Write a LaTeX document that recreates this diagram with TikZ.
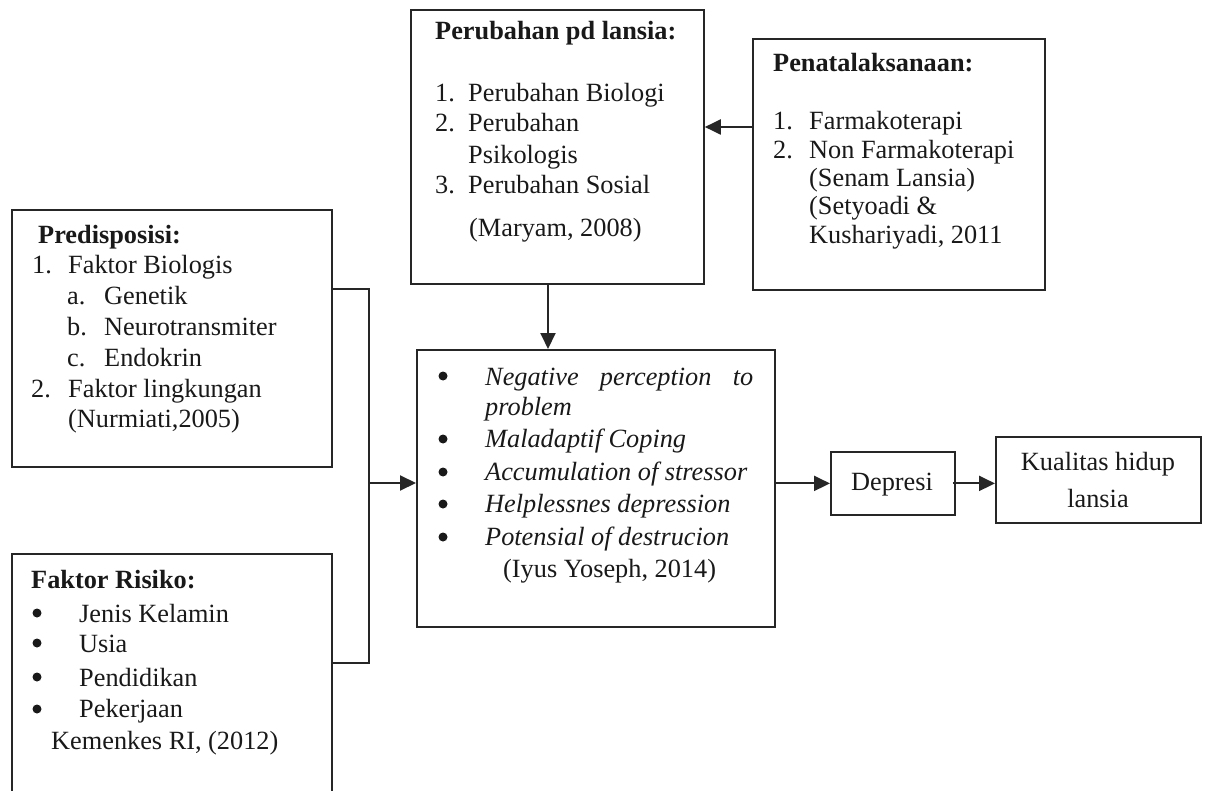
\documentclass[tikz,border=0pt]{standalone}
\usepackage{fontspec}
\setmainfont{Liberation Serif}
\usetikzlibrary{arrows.meta}
\tikzset{
  box/.style={draw=black!85, line width=1.8pt, rectangle, inner sep=0pt, anchor=north west},
  txt/.style={inner sep=0pt, anchor=base west, font=\fontsize{26.3}{29}\selectfont, text=black!90},
  dot/.style={circle, fill=black!90, inner sep=0pt, minimum size=9pt},
  arr/.style={draw=black!85, line width=2pt, -{Triangle[length=16pt,width=15pt]}},
  ln/.style={draw=black!85, line width=1.4pt},
}
\begin{document}
\begin{tikzpicture}[x=1pt,y=-1pt]
\useasboundingbox (0,0) rectangle (1206,791);
\clip (0,0) rectangle (1206,791);
\fill[white] (0,0) rectangle (1206,791);
% boxes
\node[box, minimum width=320pt, minimum height=257pt] (pred) at (11,209) {};
\node[box, minimum width=320pt, minimum height=260pt] (risk) at (11,553) {};
\node[box, minimum width=293pt, minimum height=274pt] (perub) at (410,9) {};
\node[box, minimum width=292pt, minimum height=251pt] (penata) at (752,38) {};
\node[box, minimum width=358pt, minimum height=277pt] (center) at (416,349) {};
\node[box, minimum width=124pt, minimum height=63pt] (depresi) at (830,451) {};
\node[box, minimum width=205pt, minimum height=86pt] (kual) at (995,436) {};
% Perubahan texts
\node[txt] (p0) at (435,40) {\bfseries Perubahan pd lansia:};
\node[txt] (p1n) at (435,102) {1.};
\node[txt] (p1) at (468,102) {Perubahan Biologi};
\node[txt] (p2n) at (435,132) {2.};
\node[txt] (p2) at (468,132) {Perubahan};
\node[txt] (p2b) at (468,164) {Psikologis};
\node[txt] (p3n) at (435,194) {3.};
\node[txt] (p3) at (468,194) {Perubahan Sosial};
\node[txt] (p4) at (469,237) {(Maryam, 2008)};
% Penatalaksanaan texts
\node[txt] (q0) at (773,72) {\bfseries Penatalaksanaan:};
\node[txt] (q1n) at (773,130) {1.};
\node[txt] (q1) at (809,130) {Farmakoterapi};
\node[txt] (q2n) at (773,159) {2.};
\node[txt] (q2) at (809,159) {Non Farmakoterapi};
\node[txt] (q3) at (809,187) {(Senam Lansia)};
\node[txt] (q4) at (809,215) {(Setyoadi \&};
\node[txt] (q5) at (809,244) {Kushariyadi, 2011};
% Predisposisi texts
\node[txt] (r0) at (38,244) {\bfseries Predisposisi:};
\node[txt] (r1n) at (32,274) {1.};
\node[txt] (r1) at (68,274) {Faktor Biologis};
\node[txt] (r2n) at (67,305) {a.};
\node[txt] (r2) at (104,305) {Genetik};
\node[txt] (r3n) at (67,335) {b.};
\node[txt] (r3) at (104,335) {Neurotransmiter};
\node[txt] (r4n) at (67,366) {c.};
\node[txt] (r4) at (104,366) {Endokrin};
\node[txt] (r5n) at (31,397) {2.};
\node[txt] (r5) at (68,397) {Faktor lingkungan};
\node[txt] (r6) at (68,427) {(Nurmiati,2005)};
% Faktor Risiko texts
\node[txt] (s0) at (31,588) {\bfseries Faktor Risiko:};
\node[dot] (s1b) at (37,613) {};
\node[txt] (s1) at (79,622) {Jenis Kelamin};
\node[dot] (s2b) at (37,643) {};
\node[txt] (s2) at (79,652) {Usia};
\node[dot] (s3b) at (37,677) {};
\node[txt] (s3) at (79,686) {Pendidikan};
\node[dot] (s4b) at (37,709) {};
\node[txt] (s4) at (79,717) {Pekerjaan};
\node[txt] (s5) at (51,749) {Kemenkes RI, (2012)};
% center texts
\node[dot] (c1b) at (443,376) {};
\node[txt] (c1) at (485,385) {\makebox[268pt][s]{\itshape Negative perception to}};
\node[txt] (c1c) at (485,415) {\itshape problem};
\node[dot] (c2b) at (443,439) {};
\node[txt] (c2) at (485,447) {\itshape Maladaptif Coping};
\node[dot] (c3b) at (443,472) {};
\node[txt] (c3) at (485,480) {\itshape Accumulation of stressor};
\node[dot] (c4b) at (443,504) {};
\node[txt] (c4) at (485,512) {\itshape Helplessnes depression};
\node[dot] (c5b) at (443,537) {};
\node[txt] (c5) at (485,545) {\itshape Potensial of destrucion};
\node[txt] (c6) at (503,577) {(Iyus Yoseph, 2014)};
% small boxes texts
\node[txt, anchor=base] (d1) at (892,490) {Depresi};
\node[txt, anchor=base] (k1) at (1098,470) {Kualitas hidup};
\node[txt, anchor=base] (k2) at (1098,507) {lansia};
% connectors
\coordinate (bt) at (369,289);
\coordinate (bb) at (369,663);
\coordinate (bm) at (369,483);
\coordinate (ya) at (0,127);
\coordinate (xa) at (548,0);
\draw[ln] (pred.east |- bt) -- (bt) -- (bb) -- (risk.east |- bb);
\draw[arr] (bm) -- (center.west |- bm);
\draw[arr] (penata.west |- ya) -- (perub.east |- ya);
\draw[arr] (perub.south -| xa) -- (center.north -| xa);
\draw[arr] (center.east |- depresi.west) -- (depresi.west);
\draw[arr] ([xshift=-3pt]depresi.east) -- (kual.west |- depresi.east);
\end{tikzpicture}
\end{document}
